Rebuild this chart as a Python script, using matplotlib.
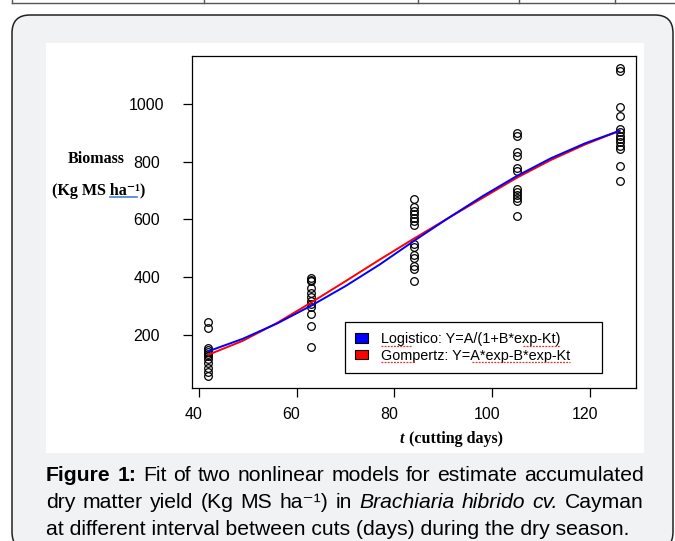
import matplotlib.pyplot as plt
from matplotlib.patches import FancyBboxPatch, Rectangle, Patch
from matplotlib.lines import Line2D
from matplotlib.transforms import ScaledTranslation

# biomassa observada (Kg MS/ha) em cada intervalo de corte
dias = [42, 63, 84, 105, 126]
bio_42 = [242, 222, 152, 146, 140, 132, 125, 115, 100, 85, 70, 57]
bio_63 = [396, 390, 384, 362, 345, 330, 318, 305, 294, 270, 229, 155]
bio_84 = [672, 643, 630, 618, 606, 594, 580, 515, 505, 476, 466, 438, 427, 386]
bio_105 = [900, 890, 832, 820, 778, 768, 706, 694, 684, 674, 662, 612]
bio_126 = [1124, 1116, 988, 959, 913, 902, 890, 878, 867, 855, 843, 785, 733]
biomassa = [bio_42, bio_63, bio_84, bio_105, bio_126]

# curvas ajustadas
t_ajuste = [42, 49, 56, 63, 70, 77, 84, 91, 98, 105, 112, 119, 126]
logistico = [142, 185, 238, 300, 368, 443, 525, 604, 680, 750, 812, 864, 907]
gompertz = [130, 178, 240, 311, 385, 460, 533, 604, 674, 744, 806, 860, 907]

x_ticks = [40, 60, 80, 100, 120]
y_ticks = [200, 400, 600, 800, 1000]
legenda = ['Logistico: Y=A/(1+B*exp-Kt)', 'Gompertz: Y=A*exp-B*exp-Kt']

W, H = 675, 541
sans = ['Liberation Sans', 'DejaVu Sans']
serif = ['Liberation Serif', 'DejaVu Serif']

fig = plt.figure(figsize=(W / 100, H / 100), dpi=100)

# fundo da pagina (coordenadas em pixels)
bg = fig.add_axes([0, 0, 1, 1], zorder=-1)
bg.set_xlim(0, W)
bg.set_ylim(H, 0)
bg.axis('off')

bg.plot([12, W], [3, 3], color='#555555', lw=1)
for xv in [12, 204, 418, 519, 615]:
    bg.plot([xv, xv], [0, 3], color='#555555', lw=1)

bg.add_patch(FancyBboxPatch((12, 15), 661, 535, boxstyle='round,pad=0,rounding_size=18',
                            facecolor='#f1f2f4', edgecolor='#222222', lw=1.1))
bg.add_patch(Rectangle((46, 43), 598, 410, facecolor='white', edgecolor='none'))

# rotulos dos eixos
bg.text(96.5, 159, 'Biomass', family=serif, weight='bold', fontsize=11.5, ha='center', va='center')
bg.text(52.5, 191, '(Kg MS ha⁻¹)', family=serif, weight='bold', fontsize=11.5, ha='left', va='center')
bg.text(400, 439, 't', family=serif, weight='bold', style='italic', fontsize=11.5, ha='left', va='center')
bg.text(409, 439, '(cutting days)', family=serif, weight='bold', fontsize=11.5, ha='left', va='center')

# legenda da figura, justificada
renderer = fig.canvas.get_renderer()
cap_size = 15.2
B = {'weight': 'bold'}
I = {'style': 'italic'}
N = {}
linha1 = [('Figure', B), ('1:', B), ('Fit', N), ('of', N), ('two', N), ('nonlinear', N),
          ('models', N), ('for', N), ('estimate', N), ('accumulated', N)]
linha2 = [('dry', N), ('matter', N), ('yield', N), ('(Kg', N), ('MS', N), ('ha⁻¹)', N),
          ('in', N), ('Brachiaria', I), ('hibrido', I), ('cv.', I), ('Cayman', N)]


def justificar(palavras, y, x0, x1):
    textos = [bg.text(x0, y, p, family=sans, fontsize=cap_size, va='baseline', ha='left', **kw)
              for p, kw in palavras]
    larg = [t.get_window_extent(renderer).width for t in textos]
    gap = (x1 - x0 - sum(larg)) / (len(textos) - 1)
    x = x0
    for t, w in zip(textos, larg):
        t.set_x(x)
        x += w + gap


justificar(linha1, 481, 46, 644)
justificar(linha2, 508, 46, 644)
bg.text(46, 535, 'at different interval between cuts (days) during the dry season.',
        family=sans, fontsize=cap_size, va='baseline', ha='left')

# grafico
ax = fig.add_axes([192 / W, 1 - 388 / H, 444 / W, 332 / H])
for d, vals in zip(dias, biomassa):
    ax.plot([d] * len(vals), vals, ls='none', marker='o', mfc='none', mec='black', ms=5.5, mew=0.9)
ax.plot(t_ajuste, gompertz, color='red', lw=1.4)
ax.plot(t_ajuste, logistico, color='blue', lw=1.4)

ax.set_xlim(38.64, 129.36)
ax.set_ylim(14.3, 1166.7)
ax.set_xticks(x_ticks)
ax.set_yticks(y_ticks)
ax.tick_params(direction='out', length=6.5, width=0.9, labelsize=11.5)
ax.tick_params(axis='x', pad=7.5)
ax.tick_params(axis='y', pad=26)
for lab in ax.get_yticklabels():
    lab.set_ha('center')
    lab.set_family(sans)
for lab in ax.get_xticklabels():
    lab.set_family(sans)
    lab.set_transform(lab.get_transform() + ScaledTranslation(-0.05, 0, fig.dpi_scale_trans))
for s in ax.spines.values():
    s.set_linewidth(0.9)

handles = [Patch(facecolor='blue', edgecolor='black', lw=0.8),
           Patch(facecolor='red', edgecolor='black', lw=0.8)]
leg = ax.legend(handles, legenda, loc='lower left', bbox_to_anchor=(0.3446, 0.0452, 0.579, 0.1506),
                mode='expand', fancybox=False, edgecolor='black', framealpha=1, borderpad=0.72,
                handlelength=0.9, handleheight=0.63, handletextpad=0.9, labelspacing=0.16,
                borderaxespad=0, prop={'family': sans, 'size': 10.4})
leg.get_frame().set_linewidth(0.9)

# sublinhados do corretor ortografico
for x0, x1, yv in [(381, 411, 346), (523, 560, 346), (381, 414, 362), (472, 570, 362)]:
    fig.add_artist(Line2D([x0, x1], [yv, yv], transform=bg.transData, color='#e03030',
                          lw=0.9, ls=(0, (1.5, 1))))
fig.add_artist(Line2D([110, 137], [197, 197], transform=bg.transData, color='#4a7bd8', lw=1.2))

fig.savefig('out.png', dpi=100)
